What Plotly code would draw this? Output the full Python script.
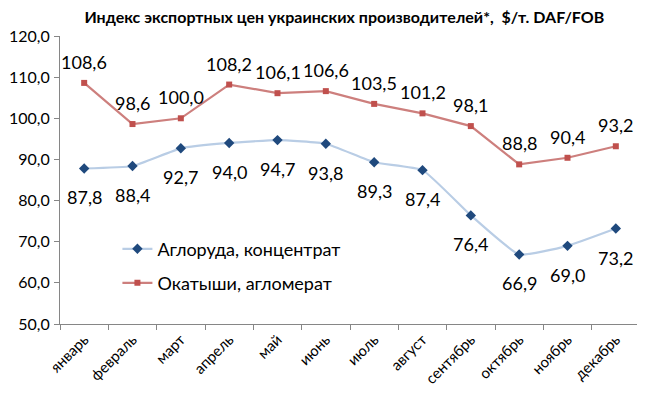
import plotly.graph_objects as go

months = ["январь", "февраль", "март", "апрель", "май", "июнь", "июль",
          "август", "сентябрь", "октябрь", "ноябрь", "декабрь"]
agloruda = [87.8, 88.4, 92.7, 94.0, 94.7, 93.8, 89.3, 87.4, 76.4, 66.9, 69.0, 73.2]
okatyshi = [108.6, 98.6, 100.0, 108.2, 106.1, 106.6, 103.5, 101.2, 98.1, 88.8, 90.4, 93.2]
y_ticks = [50, 60, 70, 80, 90, 100, 110, 120]

FONT = "Lato, Open Sans, sans-serif"


def fmt(v):
    return f"{v:.1f}".replace(".", ",")


fig = go.Figure()
fig.add_trace(go.Scatter(
    x=months, y=agloruda, name="Аглоруда, концентрат",
    mode="lines+markers",
    line=dict(color="#B9CDE5", width=2.2, shape="spline", smoothing=0.4),
    marker=dict(symbol="diamond", color="#1F497D", size=8),
    legend="legend",
))
fig.add_trace(go.Scatter(
    x=months, y=okatyshi, name="Окатыши, агломерат",
    mode="lines+markers",
    line=dict(color="#CD7F7D", width=2.2),
    marker=dict(symbol="square", color="#C0504D", size=6),
    legend="legend2",
))

annotations = []
for m, v in zip(months, agloruda):
    annotations.append(dict(x=m, y=v, text=fmt(v), showarrow=False,
                            yshift=-29, font=dict(family=FONT, size=18, color="#000000")))
for m, v in zip(months, okatyshi):
    annotations.append(dict(x=m, y=v, text=fmt(v), showarrow=False,
                            yshift=21, font=dict(family=FONT, size=18, color="#000000")))

fig.update_layout(
    width=637, height=388,
    margin=dict(l=52, r=5, t=28, b=72),
    paper_bgcolor="white", plot_bgcolor="white",
    separators=", ",
    font=dict(family=FONT, size=15, color="#000000"),
    title=dict(text="<b>Индекс экспортных цен украинских производителей*,  $/т. DAF/FOB</b>",
               x=0.528, xanchor="center", y=0.977, yanchor="middle",
               font=dict(family=FONT, size=16)),
    showlegend=True,
    annotations=annotations,
    legend=dict(x=0.099, y=0.26, xanchor="left", yanchor="middle",
                bgcolor="rgba(0,0,0,0)", font=dict(size=18, family=FONT)),
    legend2=dict(x=0.099, y=0.142, xanchor="left", yanchor="middle",
                 bgcolor="rgba(0,0,0,0)", font=dict(size=18, family=FONT)),
    xaxis=dict(showline=True, linecolor="#868686", linewidth=1,
               ticks="outside", ticklen=5, tickcolor="#868686",
               tickson="boundaries", tickangle=-45,
               tickfont=dict(size=15, family=FONT), automargin=False,
               showgrid=False, range=[-0.5, 11.5]),
    yaxis=dict(range=[50, 120], tickvals=y_ticks, tickformat=".1f",
               showline=True, linecolor="#868686", linewidth=1,
               ticks="outside", ticklen=5, tickcolor="#868686",
               ticklabelstandoff=1, automargin=False,
               tickfont=dict(size=16, family=FONT),
               showgrid=False, zeroline=False),
)

fig.write_html("out.html")
